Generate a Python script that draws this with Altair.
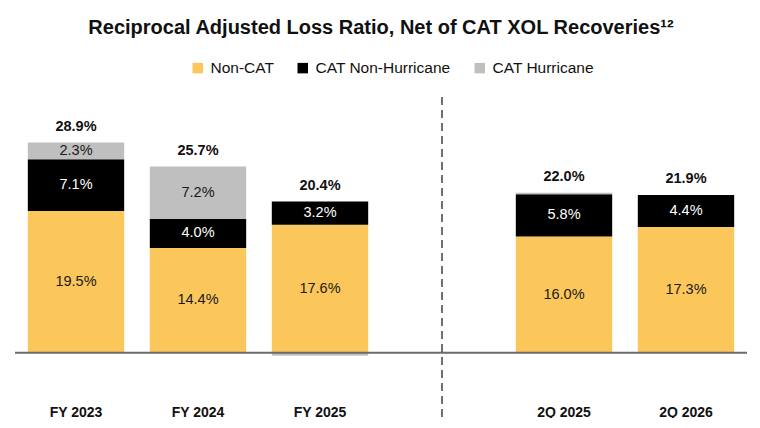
import altair as alt
import pandas as pd

categories = ["FY 2023", "FY 2024", "FY 2025", "2Q 2025", "2Q 2026"]
gap_slot = "gap"
series = ["Non-CAT", "CAT Non-Hurricane", "CAT Hurricane"]
non_cat = [19.5, 14.4, 17.6, 16.0, 17.3]
cat_non_hurricane = [7.1, 4.0, 3.2, 5.8, 4.4]
cat_hurricane = [2.3, 7.2, -0.4, 0.2, 0.0]
totals = [28.9, 25.7, 20.4, 22.0, 21.9]
colors = ["#FBC65A", "#000000", "#BFBFBF"]

FONT = "Liberation Sans"
domain = categories[:3] + [gap_slot] + categories[3:]

rows = []
tops = []
for i, c in enumerate(categories):
    pos = 0.0
    neg = 0.0
    for k, (s, vals) in enumerate(zip(series, [non_cat, cat_non_hurricane, cat_hurricane])):
        v = vals[i]
        if v >= 0:
            y0, y1 = pos, pos + v
            pos = y1
        else:
            y0, y1 = neg, neg + v
            neg = y1
        rows.append(dict(cat=c, series=s, order=k, value=v, y0=y0, y1=y1,
                         mid=(y0 + y1) / 2,
                         label=(f"{v:.1f}%" if abs(v) >= 1 else ""),
                         txtcolor=("white" if s == "CAT Non-Hurricane" else "#1a1a1a")))
    tops.append(pos)
seg = pd.DataFrame(rows)
tot = pd.DataFrame({"cat": categories, "top": tops, "label": [f"{t:.1f}%" for t in totals]})

W, H = 732, 269
xscale = alt.Scale(domain=domain, paddingInner=0.21, paddingOuter=0.105)
yscale = alt.Scale(domain=[-1, 36], nice=False, zero=False)

xenc = alt.X("cat:N", scale=xscale, sort=domain,
             axis=alt.Axis(title=None, domain=False, ticks=False, labelAngle=0,
                           labelPadding=45, labelFontSize=14, labelFontWeight="bold",
                           labelColor="#111111", labelFont=FONT,
                           labelExpr="datum.value == 'gap' ? '' : datum.value"))

bars = alt.Chart(seg).mark_bar().encode(
    x=xenc,
    y=alt.Y("y0:Q", scale=yscale, axis=None),
    y2="y1:Q",
    color=alt.Color("series:N", scale=alt.Scale(domain=series, range=colors),
                    legend=alt.Legend(title=None, orient="none", direction="horizontal",
                                      legendX=175, legendY=-31, symbolType="square",
                                      symbolSize=110, symbolStrokeWidth=0,
                                      labelFontSize=15.5, labelFont=FONT, labelColor="#111111",
                                      columnPadding=21, labelOffset=5)),
)

seg_text = alt.Chart(seg).mark_text(fontSize=14.5, font=FONT).encode(
    x=alt.X("cat:N", scale=xscale, sort=domain),
    y=alt.Y("mid:Q", scale=yscale),
    text="label:N",
    color=alt.Color("txtcolor:N", scale=None),
)

tot_text = alt.Chart(tot).mark_text(fontSize=14.5, font=FONT, fontWeight="bold",
                                    baseline="bottom", dy=-9, color="#111111").encode(
    x=alt.X("cat:N", scale=xscale, sort=domain),
    y=alt.Y("top:Q", scale=yscale),
    text="label:N",
)

baseline = alt.Chart(pd.DataFrame({"z": [0]})).mark_rule(color="#6b6b6b", strokeWidth=2).encode(
    y=alt.Y("z:Q", scale=yscale),
    x=alt.value(0),
    x2=alt.value(W),
)

divider = alt.Chart(pd.DataFrame({"cat": [gap_slot]})).mark_rule(
    color="#707070", strokeWidth=2, strokeDash=[8, 5]).encode(
    x=alt.X("cat:N", scale=xscale, sort=domain),
    y=alt.value(6),
    y2=alt.value(331),
)

chart = alt.layer(bars, baseline, divider, seg_text, tot_text).properties(
    width=W, height=H,
    title=alt.TitleParams("Reciprocal Adjusted Loss Ratio, Net of CAT XOL Recoveries¹²",
                          fontSize=20, font=FONT, fontWeight="bold", color="#111111",
                          anchor="middle", offset=22),
    autosize=alt.AutoSizeParams(type="none"),
    padding={"left": 7, "top": 83, "right": 5, "bottom": 58},
).configure_view(strokeWidth=0)

chart.save("out.html", embed_options={"renderer": "svg", "actions": False})
